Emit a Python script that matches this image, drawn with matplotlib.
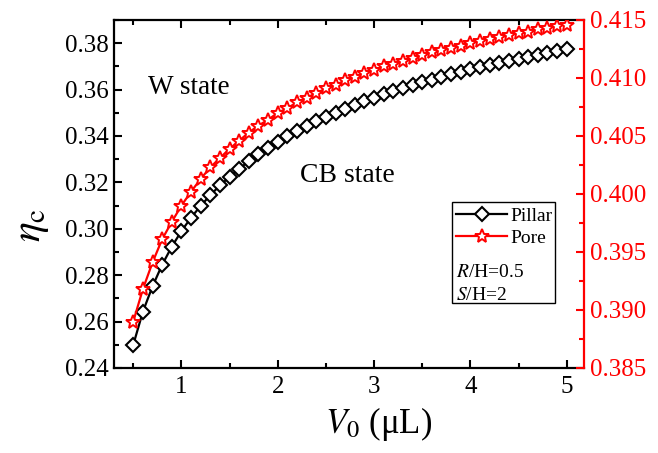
import matplotlib
matplotlib.use("Agg")
import matplotlib.pyplot as plt
from matplotlib.patches import Rectangle
from matplotlib.ticker import MultipleLocator, FormatStrFormatter
from matplotlib.lines import Line2D

plt.rcParams['font.family'] = ['Liberation Serif', 'DejaVu Serif']
plt.rcParams['mathtext.fontset'] = 'stix'

v0 = [0.5, 0.6, 0.7, 0.8, 0.9, 1.0, 1.1, 1.2, 1.3, 1.4, 1.5, 1.6, 1.7, 1.8, 1.9,
      2.0, 2.1, 2.2, 2.3, 2.4, 2.5, 2.6, 2.7, 2.8, 2.9, 3.0, 3.1, 3.2, 3.3, 3.4,
      3.5, 3.6, 3.7, 3.8, 3.9, 4.0, 4.1, 4.2, 4.3, 4.4, 4.5, 4.6, 4.7, 4.8, 4.9, 5.0]

pillar = [0.2500, 0.2643, 0.2752, 0.2845, 0.2923, 0.2990, 0.3048, 0.3099, 0.3145, 0.3187,
          0.3224, 0.3259, 0.3291, 0.3321, 0.3349, 0.3374, 0.3399, 0.3421, 0.3443, 0.3463,
          0.3482, 0.3500, 0.3518, 0.3534, 0.3550, 0.3565, 0.3579, 0.3593, 0.3606, 0.3619,
          0.3631, 0.3643, 0.3655, 0.3666, 0.3676, 0.3687, 0.3697, 0.3706, 0.3716, 0.3725,
          0.3733, 0.3742, 0.3750, 0.3758, 0.3766, 0.3774]

pore = [0.3890, 0.3918, 0.3941, 0.3961, 0.3976, 0.3990, 0.4002, 0.4013, 0.4023, 0.4031,
        0.4039, 0.4046, 0.4053, 0.4059, 0.4064, 0.4070, 0.4074, 0.4079, 0.4083, 0.4087,
        0.4091, 0.4094, 0.4098, 0.4101, 0.4104, 0.4107, 0.4110, 0.4112, 0.4115, 0.4117,
        0.4120, 0.4122, 0.4124, 0.4126, 0.4128, 0.4130, 0.4132, 0.4134, 0.4135, 0.4137,
        0.4139, 0.4140, 0.4142, 0.4143, 0.4145, 0.4146]

fig = plt.figure(figsize=(6.58, 4.53), dpi=100)
ax = fig.add_axes([114/658, 1-368/453, 470/658, 348/453])
ax2 = ax.twinx()

ax.plot(v0, pillar, color='black', lw=1.6, marker='D', markersize=7.3,
        markerfacecolor='white', markeredgecolor='black', markeredgewidth=1.5)
ax2.plot(v0, pore, color='red', lw=1.6, marker='*', markersize=10.5,
         markerfacecolor='white', markeredgecolor='red', markeredgewidth=1.4)

ax.set_xlim(0.3, 5.18)
ax.set_ylim(0.24, 0.39)
ax2.set_ylim(0.385, 0.415)

ax.xaxis.set_major_locator(MultipleLocator(1))
ax.xaxis.set_minor_locator(MultipleLocator(0.5))
ax.yaxis.set_major_locator(MultipleLocator(0.02))
ax.yaxis.set_minor_locator(MultipleLocator(0.01))
ax2.yaxis.set_major_locator(MultipleLocator(0.005))
ax2.yaxis.set_minor_locator(MultipleLocator(0.0025))
ax.yaxis.set_major_formatter(FormatStrFormatter('%.2f'))
ax2.yaxis.set_major_formatter(FormatStrFormatter('%.3f'))

ax.tick_params(axis='both', which='both', direction='in', labelsize=18)
ax.tick_params(axis='x', which='both', top=True)
ax.tick_params(which='major', length=6, width=1.5)
ax.tick_params(which='minor', length=3.5, width=1.5)
ax.tick_params(axis='y', right=False, pad=4)
ax.tick_params(axis='x', pad=6)
ax2.tick_params(axis='y', which='both', direction='in', colors='red', labelsize=18, width=1.5, pad=4)
ax2.tick_params(axis='y', which='major', length=6)
ax2.tick_params(axis='y', which='minor', length=3.5)

for s in ['left', 'bottom', 'top']:
    ax.spines[s].set_linewidth(1.6)
ax2.spines['right'].set_color('red')
ax2.spines['right'].set_linewidth(1.6)
ax2.spines['left'].set_visible(False)
ax2.spines['top'].set_visible(False)
ax2.spines['bottom'].set_visible(False)
ax.spines['right'].set_visible(False)

ax.set_xlabel(r'$V_0$ (μL)', fontsize=25)
ax.xaxis.set_label_coords(0.562, -0.105)
ax.set_ylabel(r'$\eta_\mathrm{c}$', fontsize=30)
ax.yaxis.set_label_coords(-0.135, 0.41)

ax.text(0.65, 0.361, 'W state', fontsize=19.5, va='center', ha='left')
ax.text(2.23, 0.323, 'CB state', fontsize=20, va='center', ha='left')

# legend box
ax.add_patch(Rectangle((0.719, 0.187), 0.219, 0.290, transform=ax.transAxes,
                       fill=False, edgecolor='black', lw=1.0, zorder=5))
h1 = Line2D([], [], color='black', lw=1.6, marker='D', markersize=7.3,
            markerfacecolor='white', markeredgewidth=1.5)
h2 = Line2D([], [], color='red', lw=1.6, marker='*', markersize=10.5,
            markerfacecolor='white', markeredgecolor='red', markeredgewidth=1.4)
leg = ax2.legend([h1, h2], ['Pillar', 'Pore'], loc='upper left',
                 bbox_to_anchor=(0.712, 0.485), frameon=False, fontsize=14,
                 handlelength=2.6, handletextpad=0.2, labelspacing=0.25,
                 borderaxespad=0.0)
ax.text(0.727, 0.274, r'$R$/H=0.5', transform=ax.transAxes, fontsize=14,
        va='center', ha='left')
ax.text(0.727, 0.208, r'$S$/H=2', transform=ax.transAxes, fontsize=14,
        va='center', ha='left')

fig.savefig('out.png', dpi=100)
